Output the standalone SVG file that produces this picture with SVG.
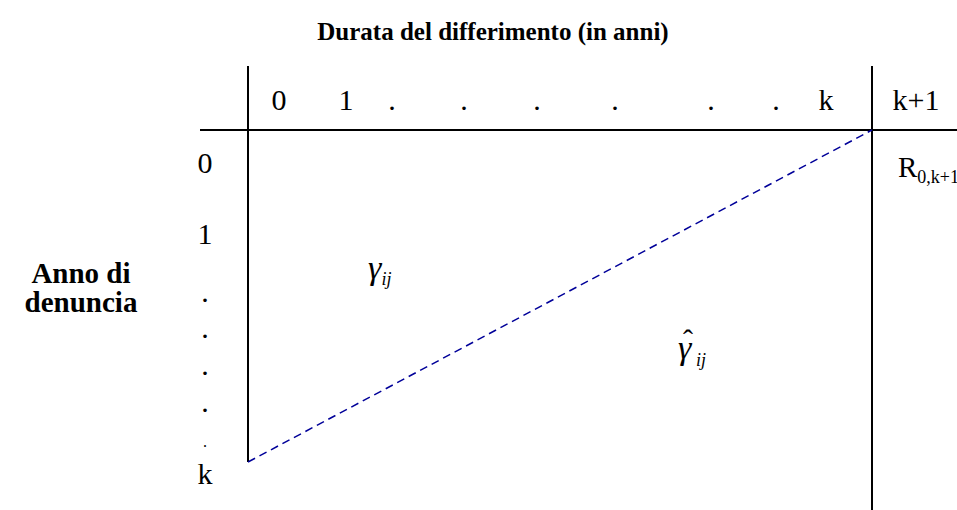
<svg xmlns="http://www.w3.org/2000/svg" width="957" height="510" viewBox="0 0 957 510">
<style>
.t{font-family:"Liberation Serif","Times New Roman",serif;fill:#000}
.b{font-weight:bold;font-size:25px}
.a{font-weight:bold;font-size:29px}
.l{font-size:30px}
.g{font-style:italic;font-size:34px}
.s{font-style:italic;font-size:18px}
.ln{stroke:#000;stroke-width:2;fill:none}
</style>
<rect width="957" height="510" fill="#fff"/>
<g id="title"><text class="t b" x="493" y="40" text-anchor="middle">Durata del differimento (in anni)</text></g>
<g id="rowtitle">
<text class="t a" x="81" y="283" text-anchor="middle">Anno di</text>
<text class="t a" x="81" y="312" text-anchor="middle">denuncia</text>
</g>
<g id="grid">
<line class="ln" x1="200" y1="130" x2="957" y2="130"/>
<line class="ln" x1="248" y1="66" x2="248" y2="462"/>
<line class="ln" x1="872" y1="66" x2="872" y2="510"/>
</g>
<g id="connectors">
<line x1="248" y1="462" x2="872" y2="130" stroke="#000099" stroke-width="1.5" stroke-dasharray="8,5"/>
</g>
<g id="colheads" class="t l" text-anchor="middle">
<text x="279" y="110">0</text>
<text x="346" y="110">1</text>
<text x="392" y="110">.</text>
<text x="464" y="110">.</text>
<text x="537" y="110">.</text>
<text x="615" y="110">.</text>
<text x="711" y="110">.</text>
<text x="776" y="110">.</text>
<text x="826" y="110">k</text>
<text x="916" y="110">k+1</text>
</g>
<g id="rowheads" class="t l" text-anchor="middle">
<text x="205" y="173">0</text>
<text x="205" y="244">1</text>
<text x="205" y="302">.</text>
<text x="205" y="338">.</text>
<text x="205" y="375">.</text>
<text x="205" y="412">.</text>
<text x="205" y="447" font-size="16">.</text>
<text x="205" y="484">k</text>
</g>
<g id="gamma"><text class="t" x="368" y="279"><tspan class="g">γ</tspan><tspan class="s" dy="6">ij</tspan></text></g>
<g id="gammahat">
<text class="t g" x="678" y="359">γ</text>
<text class="t" x="683" y="350" font-size="30">ˆ</text>
<text class="t s" x="696" y="366">ij</text>
</g>
<g id="R"><text class="t" x="898" y="177"><tspan font-size="29">R</tspan><tspan font-size="18" dy="6">0,k+1</tspan></text></g>
</svg>
